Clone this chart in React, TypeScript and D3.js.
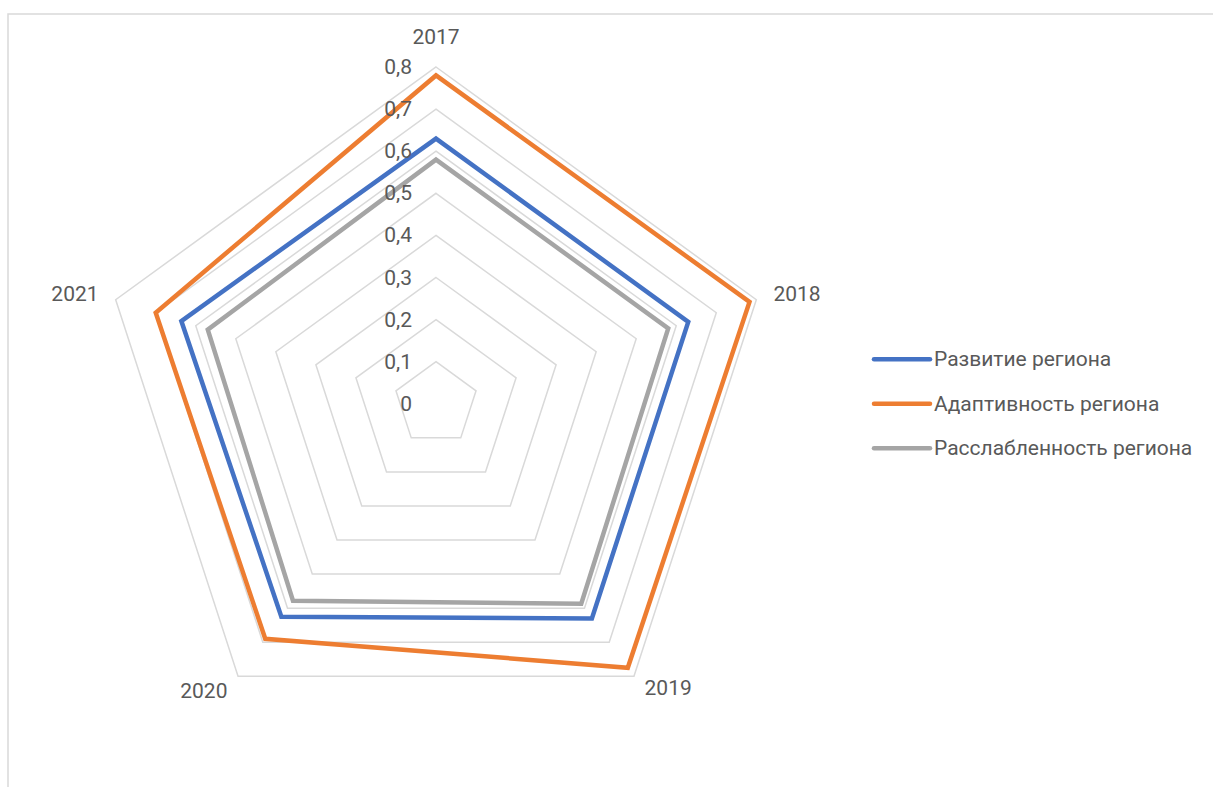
import React from "react";
import * as d3 from "d3";

const categories = ["2017", "2018", "2019", "2020", "2021"];
const seriesNames = ["Развитие региона", "Адаптивность региона", "Расслабленность региона"];
const developmentValues = [0.63, 0.63, 0.63, 0.625, 0.636];
const adaptivityValues = [0.78, 0.783, 0.775, 0.69, 0.7];
const relaxationValues = [0.58, 0.58, 0.587, 0.578, 0.57];
const tickValues = [0, 0.1, 0.2, 0.3, 0.4, 0.5, 0.6, 0.7, 0.8];
const tickLabels = ["0", "0,1", "0,2", "0,3", "0,4", "0,5", "0,6", "0,7", "0,8"];
const seriesColors = ["#4472C4", "#ED7D31", "#A5A5A5"];

const W = 1213;
const H = 787;
const cx = 436;
const cy = 403.8;
const outerR = 336.8;
const FONT = "Roboto, 'Open Sans', sans-serif";
const TEXT = "#595959";
const FS = 21;

export default function App() {
  const r = d3.scaleLinear().domain([0, 0.8]).range([0, outerR]);
  const angle = (i: number) => (i * 2 * Math.PI) / categories.length;
  const pt = (i: number, v: number): [number, number] => [
    cx + r(v) * Math.sin(angle(i)),
    cy - r(v) * Math.cos(angle(i)),
  ];
  const closed = d3.line().curve(d3.curveLinearClosed);
  const series = [developmentValues, adaptivityValues, relaxationValues];

  const labelR = outerR + 18;
  const anchors = ["middle", "start", "start", "end", "end"];

  return (
    <svg width={W} height={H} style={{ position: "absolute", left: 0, top: 0, display: "block" }}>
      <rect x={0} y={0} width={W} height={H} fill="#fff" />
      <rect x={8} y={14} width={W + 20} height={H + 20} fill="none" stroke="#D9D9D9" strokeWidth={1.5} />
      {tickValues.slice(1).map((t) => (
        <path
          key={t}
          d={closed(categories.map((_, i) => pt(i, t))) || ""}
          fill="none"
          stroke="#D9D9D9"
          strokeWidth={1.5}
        />
      ))}
      {series.map((vals, s) => (
        <path
          key={s}
          d={closed(vals.map((v, i) => pt(i, v))) || ""}
          fill="none"
          stroke={seriesColors[s]}
          strokeWidth={4.5}
          strokeLinejoin="miter"
        />
      ))}
      {tickValues.map((t, k) => (
        <text
          key={t}
          x={cx - 24}
          y={cy - r(t)}
          textAnchor="end"
          dominantBaseline="central"
          fontFamily={FONT}
          fontSize={FS}
          fill={TEXT}
        >
          {tickLabels[k]}
        </text>
      ))}
      {categories.map((c, i) => {
        const x = cx + labelR * Math.sin(angle(i));
        const y = i === 0 ? 44 : cy - labelR * Math.cos(angle(i));
        return (
          <text
            key={c}
            x={x}
            y={i === 2 ? y - 3 : y}
            textAnchor={anchors[i]}
            dominantBaseline={i === 0 ? "auto" : "central"}
            fontFamily={FONT}
            fontSize={FS}
            fill={TEXT}
          >
            {c}
          </text>
        );
      })}
      {seriesNames.map((n, s) => {
        const y = 359.3 + s * 44.5;
        return (
          <g key={n}>
            <line x1={874} x2={930} y1={y} y2={y} stroke={seriesColors[s]} strokeWidth={4.5} strokeLinecap="round" />
            <text x={934} y={y} dominantBaseline="central" fontFamily={FONT} fontSize={FS} fill={TEXT}>
              {n}
            </text>
          </g>
        );
      })}
    </svg>
  );
}
